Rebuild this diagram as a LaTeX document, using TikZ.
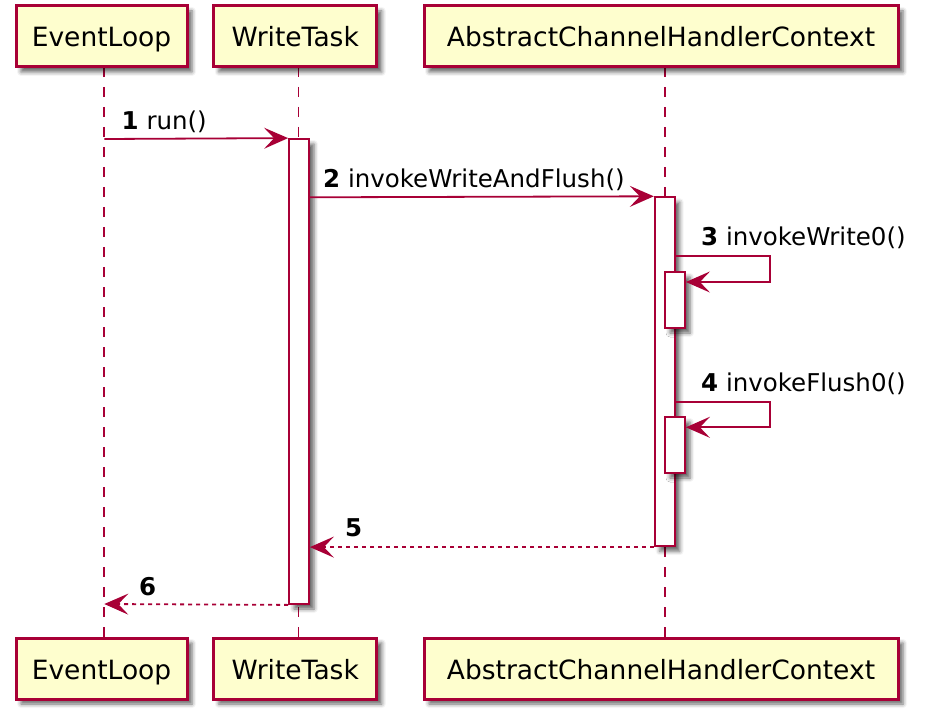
\documentclass[tikz,border=0pt]{standalone}
\usepackage{fontspec}
\setmainfont{DejaVu Sans}
\usetikzlibrary{arrows.meta,shadows.blur}
\definecolor{pumlred}{HTML}{A80036}
\definecolor{pumlfill}{HTML}{FEFECE}
\tikzset{
  pshadow/.style={blur shadow={shadow xshift=5pt, shadow yshift=-5pt, shadow blur radius=4pt, shadow opacity=60}},
  participant/.style={draw=pumlred, line width=3pt, fill=pumlfill, pshadow, inner sep=0pt,
     minimum height=61pt, text height=21pt, text depth=0pt,
     font=\fontsize{26.5}{30}\selectfont},
  actbox/.style={draw=pumlred, line width=1.8pt, fill=white, pshadow, inner sep=0pt, minimum width=20pt},
  lifeline/.style={draw=pumlred, line width=1.8pt, dash pattern=on 10pt off 10pt},
  msg/.style={draw=pumlred, line width=1.8pt, -{Stealth[length=24pt, width=21pt, inset=10pt]}},
  ret/.style={msg, dash pattern=on 4pt off 4pt},
  msglabel/.style={anchor=base west, inner sep=0pt, font=\fontsize{24.5}{28}\selectfont}
}
\begin{document}
\begin{tikzpicture}[x=1pt, y=-1pt]
\useasboundingbox (0,0) rectangle (931,719);
% lifeline coordinates
\coordinate (elT) at (104.3,67);  \coordinate (elB) at (104.3,637);
\coordinate (wtT) at (298.5,67);  \coordinate (wtB) at (298.5,637);
\coordinate (acT) at (665,67);    \coordinate (acB) at (665,637);
\draw[lifeline] (elT) -- (elB);
\draw[lifeline] (wtT) -- (wtB);
\draw[lifeline] (acT) -- (acB);
% participants
\node[participant, minimum width=171pt] (elTop) at (101.5,36.5) {EventLoop};
\node[participant, minimum width=163pt] (wtTop) at (295.3,36.5) {WriteTask};
\node[participant, minimum width=474pt] (acTop) at (661,36.5) {AbstractChannelHandlerContext};
\node[participant, minimum width=171pt] (elBot) at (101.5,668.5) {EventLoop};
\node[participant, minimum width=163pt] (wtBot) at (295.3,668.5) {WriteTask};
\node[participant, minimum width=474pt] (acBot) at (661,668.5) {AbstractChannelHandlerContext};
% activations
\node[actbox, minimum height=465pt] (wtAct) at (299,371.5) {};
\node[actbox, minimum height=349pt] (acAct) at (664.7,371.7) {};
\node[actbox, minimum height=56pt] (acN1) at (675,300) {};
\node[actbox, minimum height=56pt] (acN2) at (675,445) {};
% message 1
\coordinate (m1s) at (104.3,139);
\draw[msg] (m1s) -- (wtAct.north west);
\node[msglabel] (l1) at (121.5,130) {\textbf{1} run()};
% message 2
\coordinate (m2s) at (wtAct.east |- 0,197.3);
\draw[msg] (m2s) -- (acAct.north west);
\node[msglabel] (l2) at (323,188) {\textbf{2} invokeWriteAndFlush()};
% message 3
\coordinate (m3s) at (acAct.east |- 0,256);
\coordinate (m3e) at (acN1.east |- 0,282);
\draw[msg] (m3s) -- (770,256) -- (770,282) -- (m3e);
\node[msglabel] (l3) at (701,246) {\textbf{3} invokeWrite0()};
% message 4
\coordinate (m4s) at (acAct.east |- 0,401.7);
\coordinate (m4e) at (acN2.east |- 0,427.3);
\draw[msg] (m4s) -- (770,401.7) -- (770,427.3) -- (m4e);
\node[msglabel] (l4) at (701,391.7) {\textbf{4} invokeFlush0()};
% message 5
\coordinate (m5e) at (wtAct.east |- acAct.south);
\draw[ret] (acAct.south west) -- (m5e);
\node[msglabel] (l5) at (345,536) {\textbf{5}};
% message 6
\coordinate (m6e) at (104.3,604);
\draw[ret] (wtAct.south west) -- (m6e);
\node[msglabel] (l6) at (139,595) {\textbf{6}};
\end{tikzpicture}
\end{document}
